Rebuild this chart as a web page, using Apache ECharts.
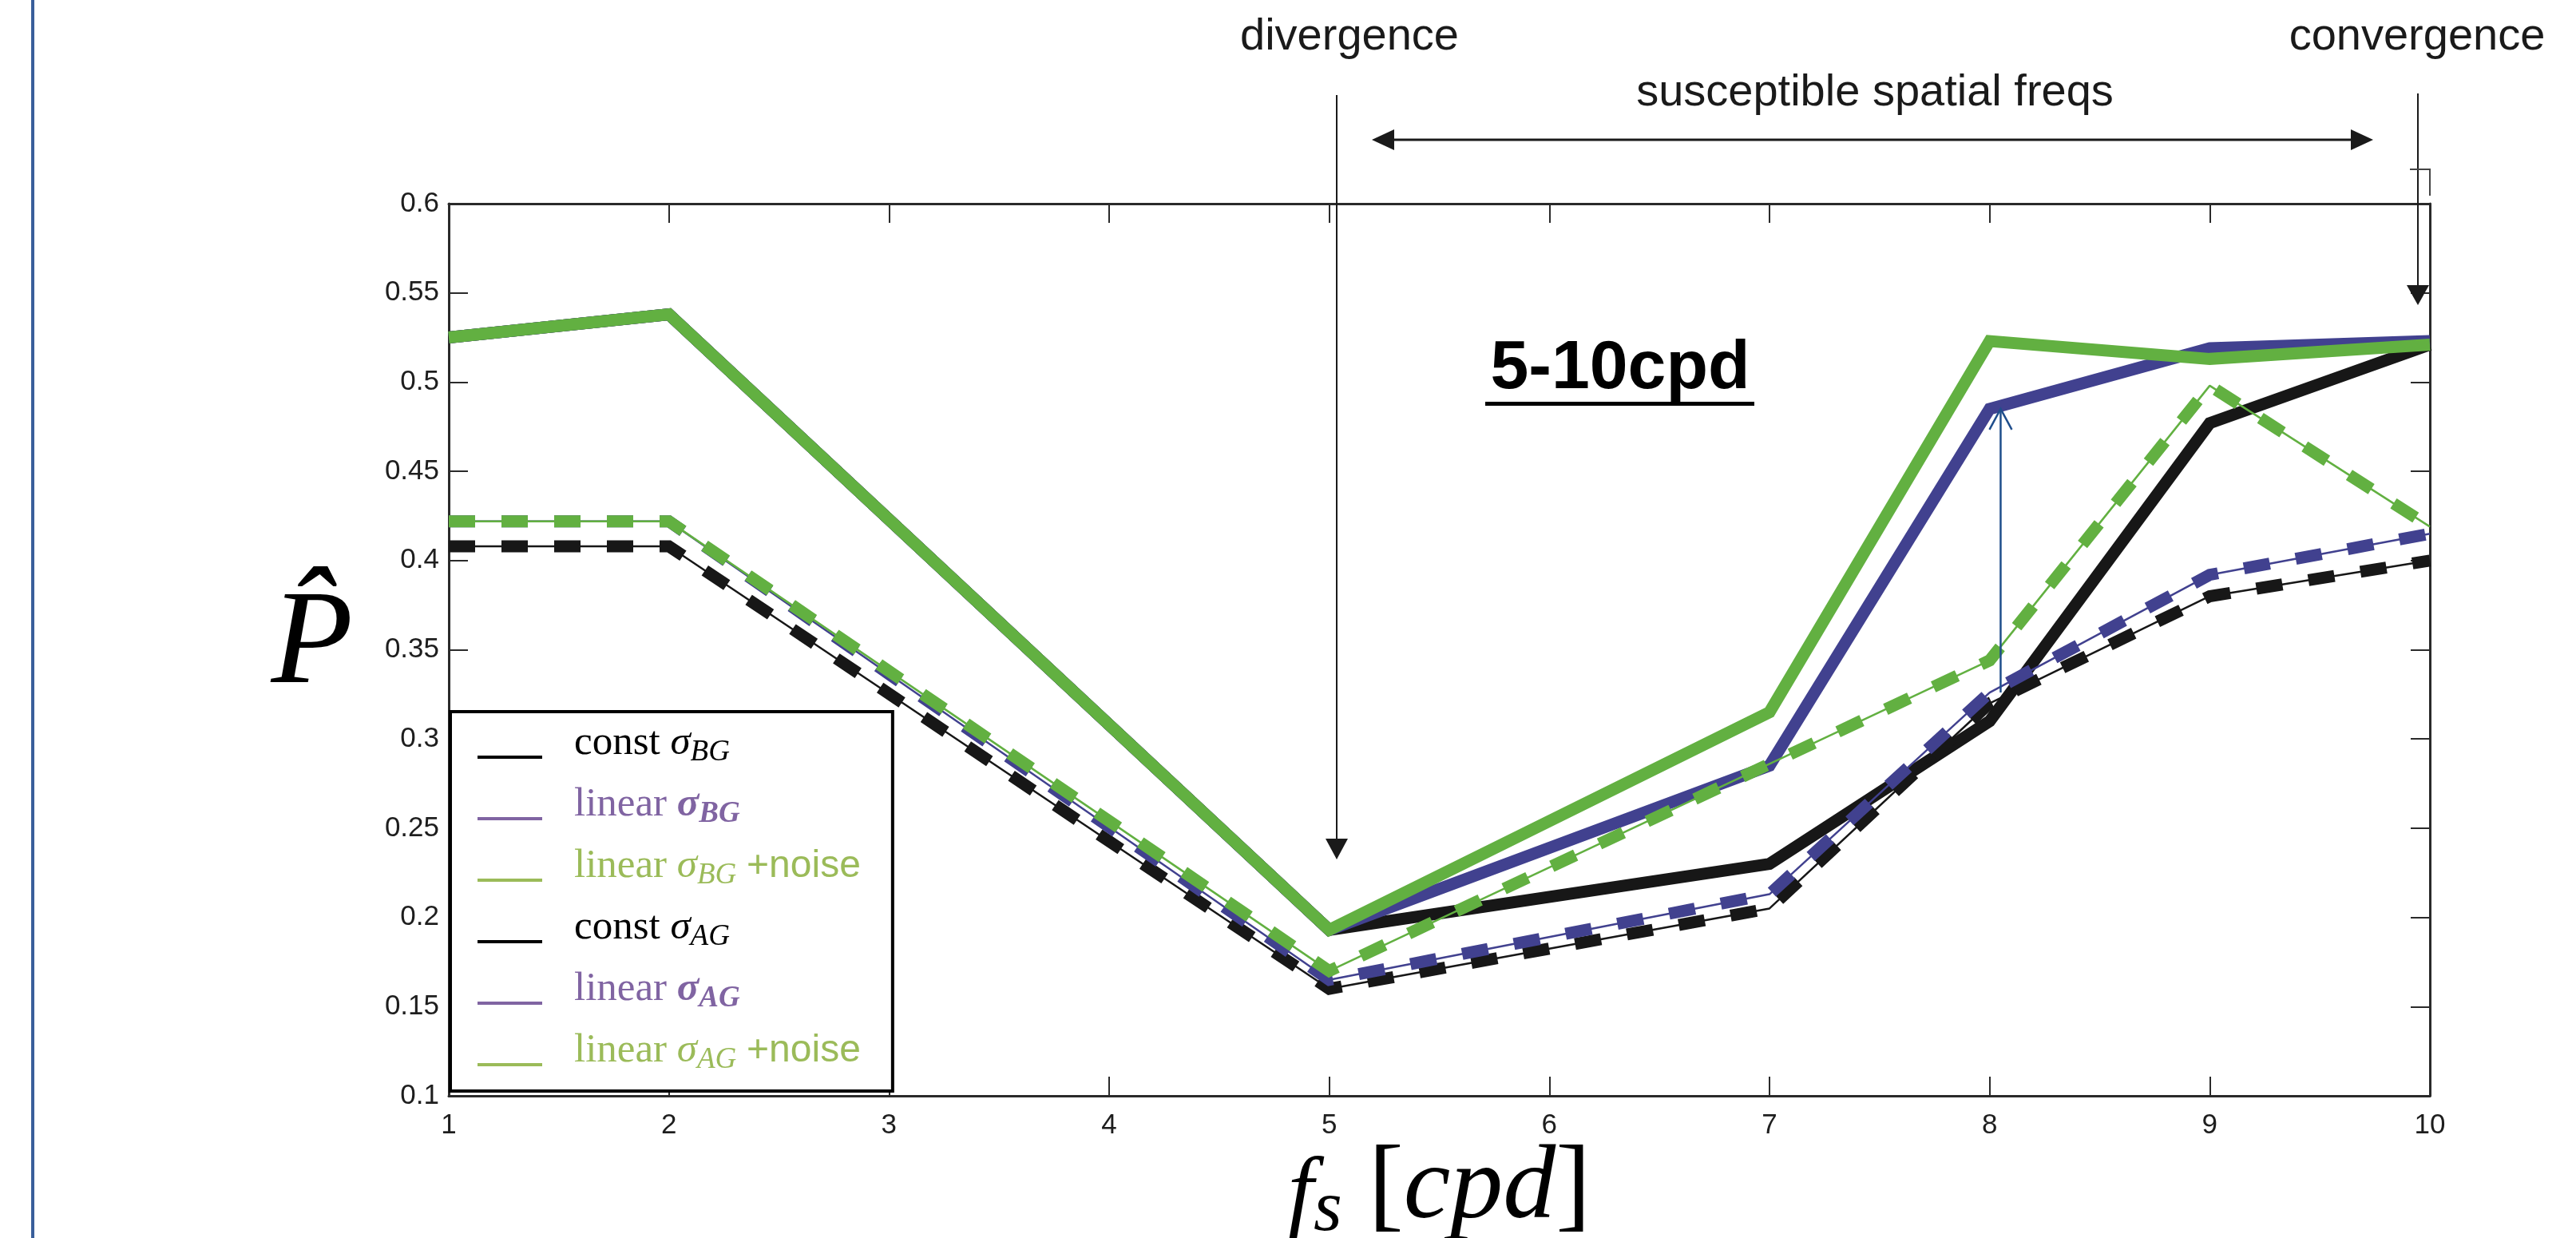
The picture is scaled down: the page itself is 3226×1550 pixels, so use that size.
<!DOCTYPE html>
<html><head><meta charset="utf-8">
<script src="https://cdn.jsdelivr.net/npm/echarts@6/dist/echarts.min.js"></script>
<style>html,body{margin:0;padding:0;background:#fff}#c{width:3226px;height:1550px}</style>
</head><body><div id="c"></div>
<script>
// ---- data ----
const freqs = [1, 2, 5, 7, 8, 9, 10];
const constBG       = [0.525, 0.538, 0.193, 0.230, 0.310, 0.477, 0.521];
const linearBG      = [0.525, 0.538, 0.193, 0.285, 0.485, 0.519, 0.523];
const linearBGnoise = [0.525, 0.538, 0.193, 0.315, 0.523, 0.513, 0.521];
const constAG       = [0.408, 0.408, 0.160, 0.205, 0.320, 0.380, 0.400];
const linearAG      = [0.422, 0.422, 0.165, 0.213, 0.326, 0.392, 0.415];
const linearAGnoise = [0.422, 0.422, 0.170, 0.286, 0.344, 0.498, 0.419];
const seriesNames = ['const σBG', 'linear σBG', 'linear σBG +noise', 'const σAG', 'linear σAG', 'linear σAG +noise'];
const xTicks = [1, 10, 1];        // min, max, step
const yTicks = [0.1, 0.6, 0.05];  // min, max, step
const arrowX = 8.05, arrowFrom = 0.326, arrowTo = 0.485;

// ---- styles ----
const C_BLACK = '#171717', C_BLUE = '#41418f', C_GREEN = '#62b041';
const L_BLACK = '#000000', L_PURPLE = '#8064a2', L_GREEN = '#9bbb59';
const lineColors = [C_BLACK, C_BLUE, C_GREEN, C_BLACK, C_BLUE, C_GREEN];
const legendColors = [L_BLACK, L_PURPLE, L_GREEN, L_BLACK, L_PURPLE, L_GREEN];
const values = [constBG, linearBG, linearBGnoise, constAG, linearAG, linearAGnoise];
const pairs = v => freqs.map((f, i) => [f, v[i]]);

const series = [];
for (let i = 0; i < 3; i++) {
  series.push({
    name: seriesNames[i], type: 'line', data: pairs(values[i]), symbol: 'none', z: 2,
    lineStyle: { color: lineColors[i], width: 15, join: 'miter', cap: 'butt' },
    itemStyle: { color: lineColors[i] }, silent: true
  });
}
for (let i = 3; i < 6; i++) {
  series.push({
    name: seriesNames[i], type: 'line', data: pairs(values[i]), symbol: 'none', z: 3,
    lineStyle: { color: lineColors[i], width: 2.5 }, itemStyle: { color: lineColors[i] }, silent: true
  });
  series.push({
    name: seriesNames[i], type: 'line', data: pairs(values[i]), symbol: 'none', z: 3,
    lineStyle: { color: lineColors[i], width: 15, type: [33, 33], cap: 'butt', join: 'miter' },
    itemStyle: { color: lineColors[i] }, silent: true
  });
}

const richLegend = {
  'const σBG': '{t|const }{g|σ}{s|BG}',
  'linear σBG': '{t|linear }{gb|σ}{sb|BG}',
  'linear σBG +noise': '{t|linear }{g|σ}{s|BG}{t| }{n|+noise}',
  'const σAG': '{t|const }{g|σ}{s|AG}',
  'linear σAG': '{t|linear }{gb|σ}{sb|AG}',
  'linear σAG +noise': '{t|linear }{g|σ}{s|AG}{t| }{n|+noise}'
};
const SERIF = "'Liberation Serif','DejaVu Serif',serif";
const SANS = "'Liberation Sans','Arimo',Arial,sans-serif";

const axisLineStyle = { color: '#2a2a2a', width: 3 };
const tickStyle = { inside: true, length: 24, lineStyle: { color: '#2a2a2a', width: 2 } };

const option = {
  animation: false,
  backgroundColor: '#ffffff',
  grid: { left: 562, right: 183, top: 255, bottom: 178, containLabel: false, outerBoundsMode: 'none' },
  xAxis: [{
    type: 'value', min: xTicks[0], max: xTicks[1], interval: xTicks[2], position: 'bottom',
    axisLine: { show: true, onZero: false, lineStyle: axisLineStyle },
    axisTick: tickStyle, splitLine: { show: false },
    axisLabel: { fontFamily: SANS, fontSize: 35, color: '#1e1e1e', margin: 20 },
    name: '{ff|f}{s|s}{b| [}{f|cpd}{b|]}', nameLocation: 'middle', nameGap: 44, nameMoveOverlap: false,
    nameTextStyle: { rich: {
      ff: { fontFamily: SERIF, fontStyle: 'italic', fontSize: 116, color: '#000', lineHeight: 146, verticalAlign: 'bottom', padding: [0, 0, 6, 0] },
      f: { fontFamily: SERIF, fontStyle: 'italic', fontSize: 132, color: '#000', lineHeight: 146 },
      s: { fontFamily: SERIF, fontStyle: 'italic', fontSize: 92, color: '#000', lineHeight: 104, verticalAlign: 'bottom' },
      b: { fontFamily: SERIF, fontSize: 132, color: '#000', lineHeight: 146 }
    } }
  }, {
    type: 'value', min: xTicks[0], max: xTicks[1], interval: xTicks[2], position: 'top',
    axisLine: { show: true, onZero: false, lineStyle: axisLineStyle },
    axisTick: tickStyle, axisLabel: { show: false }, splitLine: { show: false }
  }],
  yAxis: [{
    type: 'value', min: yTicks[0], max: yTicks[1], interval: yTicks[2], position: 'left',
    axisLine: { show: true, onZero: false, lineStyle: axisLineStyle },
    axisTick: tickStyle, splitLine: { show: false },
    axisLabel: { fontFamily: SANS, fontSize: 35, color: '#1e1e1e', margin: 12,
      formatter: v => String(+v.toFixed(2)) },
    name: '{p|P\u0302}', nameLocation: 'middle', nameRotate: 0, nameGap: 120,
    nameTextStyle: { padding: [0, 0, 8, 0], rich: {
      p: { fontFamily: SERIF, fontStyle: 'italic', fontSize: 168, color: '#000' }
    } }
  }, {
    type: 'value', min: yTicks[0], max: yTicks[1], interval: yTicks[2], position: 'right',
    axisLine: { show: true, onZero: false, lineStyle: axisLineStyle },
    axisTick: tickStyle, axisLabel: { show: false }, splitLine: { show: false }
  }],
  legend: {
    orient: 'vertical', left: 564, top: 891,
    padding: [10, 40, 20, 34],
    itemWidth: 116, itemHeight: 60, itemGap: 17,
    backgroundColor: '#ffffff', borderColor: '#000', borderWidth: 4, borderRadius: 0,
    selectedMode: false, symbolKeepAspect: true,
    icon: 'path://M0,0L0.01,0L0.01,0.01Z M0,45L81,45L81,49L0,49Z M116,60L115.99,60L115.99,59.99Z',
    data: seriesNames.map((n, i) => ({
      name: n, itemStyle: { color: legendColors[i], borderWidth: 0 },
      textStyle: { color: legendColors[i] }
    })),
    formatter: n => richLegend[n],
    textStyle: { rich: {
      t: { fontFamily: SERIF, fontSize: 51, lineHeight: 60 },
      g: { fontFamily: SERIF, fontStyle: 'italic', fontSize: 51, lineHeight: 60 },
      gb: { fontFamily: SERIF, fontStyle: 'italic', fontWeight: 'bold', fontSize: 51, lineHeight: 60 },
      s: { fontFamily: SERIF, fontStyle: 'italic', fontSize: 37, lineHeight: 30, verticalAlign: 'bottom' },
      sb: { fontFamily: SERIF, fontStyle: 'italic', fontWeight: 'bold', fontSize: 37, lineHeight: 30, verticalAlign: 'bottom' },
      n: { fontFamily: SANS, fontSize: 48, lineHeight: 60 }
    } }
  },
  series: series
};

const chart = echarts.init(document.getElementById('c'), null, { renderer: 'canvas' });
chart.setOption(option);

const pTop = chart.convertToPixel({ xAxisIndex: 0, yAxisIndex: 0 }, [arrowX, arrowTo]);
const pBot = chart.convertToPixel({ xAxisIndex: 0, yAxisIndex: 0 }, [arrowX, arrowFrom]);
const AC = '#1a1a1a';
const annFont = { fontFamily: SANS, fontSize: 56, fill: '#1a1a1a', align: 'center', verticalAlign: 'middle' };
chart.setOption({ graphic: [
  { type: 'rect', shape: { x: 39, y: 0, width: 4, height: 1550 }, style: { fill: '#3a5f9b' }, z: 1 },
  { type: 'text', x: 1690, y: 47, style: Object.assign({ text: 'divergence' }, annFont), z: 5 },
  { type: 'text', x: 3027, y: 47, style: Object.assign({ text: 'convergence' }, annFont), z: 5 },
  { type: 'text', x: 2348, y: 117, style: Object.assign({ text: 'susceptible spatial freqs' }, annFont), z: 5 },
  // divergence arrow
  { type: 'line', shape: { x1: 1674, y1: 119, x2: 1674, y2: 1055 }, style: { stroke: AC, lineWidth: 2 }, z: 5 },
  { type: 'polygon', shape: { points: [[1660, 1050], [1688, 1050], [1674, 1076]] }, style: { fill: AC }, z: 5 },
  // convergence arrow
  { type: 'line', shape: { x1: 3028, y1: 117, x2: 3028, y2: 360 }, style: { stroke: AC, lineWidth: 2 }, z: 5 },
  { type: 'polygon', shape: { points: [[3014, 357], [3042, 357], [3028, 382]] }, style: { fill: AC }, z: 5 },
  { type: 'polyline', shape: { points: [[3018, 212], [3043, 212], [3043, 245]] }, style: { stroke: '#444', lineWidth: 2 }, z: 5 },
  // double-headed arrow
  { type: 'line', shape: { x1: 1740, y1: 175, x2: 2950, y2: 175 }, style: { stroke: AC, lineWidth: 3 }, z: 5 },
  { type: 'polygon', shape: { points: [[1718, 175], [1746, 162], [1746, 188]] }, style: { fill: AC }, z: 5 },
  { type: 'polygon', shape: { points: [[2972, 175], [2944, 162], [2944, 188]] }, style: { fill: AC }, z: 5 },
  // 5-10cpd label
  { type: 'text', x: 2029, y: 462, style: { text: '5-10cpd', fontFamily: SANS, fontWeight: 'bold', fontSize: 86, fill: '#000', align: 'center', verticalAlign: 'middle' }, z: 5 },
  { type: 'rect', shape: { x: 1860, y: 503, width: 337, height: 5 }, style: { fill: '#000' }, z: 5 },
  // thin blue arrow between linear σAG and linear σBG at 8 cpd
  { type: 'line', shape: { x1: pBot[0], y1: pBot[1], x2: pTop[0], y2: pTop[1] }, style: { stroke: '#1f4e8c', lineWidth: 2.5 }, z: 10 },
  { type: 'polyline', shape: { points: [[pTop[0] - 14, pTop[1] + 26], [pTop[0], pTop[1]], [pTop[0] + 14, pTop[1] + 26]] }, style: { stroke: '#1f4e8c', lineWidth: 2.5, fill: null }, z: 10 }
] });
</script>
</body></html>
